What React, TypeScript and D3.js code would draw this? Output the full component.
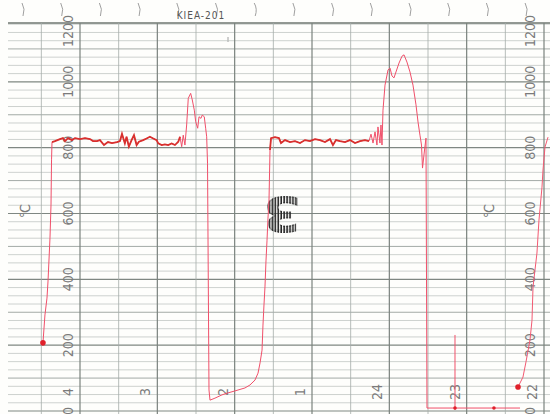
import React from 'react';
import * as d3 from 'd3';

// time = hours after 22:00 (paper runs right to left), temp in °C
const hourTicks = [0, 1, 2, 3, 4, 5, 6];
const tempTicks = [0, 200, 400, 600, 800, 1000, 1200];

// first cooling run, enters from the right edge
const runA: [number, number][] = [
  [-0.052, 832], [-0.013, 802], [0.013, 732], [0.026, 680], [0.065, 580],
  [0.091, 480], [0.142, 377], [0.155, 276], [0.181, 216], [0.233, 149],
  [0.272, 103], [0.31, 85], [0.336, 73],
];

// main trace
const runB: [number, number][] = [
  [0.31, 9], [0.647, 9], [1.151, 9], [1.513, 9], [1.526, 829], [1.545, 793],
  [1.571, 738], [1.584, 808], [1.604, 838], [1.629, 878], [1.655, 930],
  [1.694, 990], [1.733, 1030], [1.772, 1060], [1.81, 1082], [1.836, 1078],
  [1.875, 1057], [1.914, 1030], [1.94, 1012], [1.966, 1018], [1.991, 1042],
  [2.017, 1036], [2.056, 990], [2.082, 914], [2.095, 808], [2.108, 869],
  [2.121, 814], [2.147, 863], [2.16, 808], [2.185, 848], [2.211, 814],
  [2.237, 841], [2.263, 820], [2.315, 823], [2.379, 820], [2.444, 814],
  [2.509, 823], [2.573, 817], [2.638, 820], [2.69, 823], [2.729, 808],
  [2.767, 826], [2.832, 817], [2.897, 823], [2.961, 826], [3.026, 820],
  [3.091, 823], [3.155, 814], [3.22, 820], [3.285, 817], [3.349, 823],
  [3.401, 814], [3.427, 829], [3.479, 832], [3.53, 829], [3.543, 793],
  [3.556, 641], [3.569, 586], [3.582, 517], [3.595, 456], [3.608, 377],
  [3.621, 322], [3.634, 261], [3.646, 185], [3.672, 146], [3.698, 115],
  [3.737, 94], [3.802, 79], [3.867, 70], [3.996, 61], [4.086, 55],
  [4.164, 49], [4.255, 39], [4.319, 33], [4.332, 64], [4.351, 753],
  [4.362, 833], [4.375, 859], [4.393, 894], [4.419, 899], [4.436, 889],
  [4.461, 894], [4.478, 859], [4.504, 879], [4.522, 914], [4.548, 945],
  [4.569, 965], [4.6, 950], [4.621, 869], [4.643, 808], [4.665, 838],
  [4.685, 803], [4.707, 833], [4.729, 818], [4.772, 808], [4.815, 813],
  [4.859, 808], [4.902, 810], [4.944, 808], [4.988, 813], [5.009, 823],
  [5.053, 828], [5.096, 833], [5.139, 828], [5.183, 823], [5.238, 818],
  [5.268, 808], [5.302, 838], [5.333, 823], [5.368, 803], [5.398, 833],
  [5.42, 813], [5.457, 842], [5.483, 820], [5.521, 817], [5.586, 814],
  [5.638, 817], [5.69, 808], [5.742, 823], [5.78, 820], [5.832, 820],
  [5.871, 826], [5.935, 829], [6.0, 826], [6.065, 829], [6.103, 823],
  [6.155, 829], [6.194, 820], [6.22, 829], [6.259, 826], [6.323, 820],
  [6.362, 817], [6.368, 763], [6.375, 626], [6.388, 526], [6.414, 392],
  [6.427, 343], [6.453, 292], [6.479, 207],
];

const eventMark: [number, number][] = [[1.151, 231], [1.151, 3]];
const penDots: [number, number][] = [[6.479, 207], [0.336, 73]];
const tickDots: [number, number][] = [[1.151, 9], [0.647, 9]];

const hourLabel = (t: number) => String(((22 + t - 1) % 24) + 1);
// stretches where the pen trace is dense (drawn darker)
const soaking = (t: number) => (t > 2.255 && t < 3.545) || (t > 4.7 && t < 6.365);

export default function App() {
  const x = d3.scaleLinear().domain([0, 6]).range([544, 80]);
  const y = d3.scaleLinear().domain([0, 1200]).range([411, 16]);
  const top = 23;
  const font = '"DejaVu Sans Condensed", "DejaVu Sans", sans-serif';

  const line = d3.line<[number, number]>().x(d => x(d[0])).y(d => y(d[1]));
  const soakLine = d3.line<[number, number]>()
    .defined(d => soaking(d[0]))
    .x(d => x(d[0])).y(d => y(d[1]));

  const halfHours = d3.range(-0.5, 7, 0.5).filter(t => x(t) >= 8 && x(t) <= 550);
  const rows = d3.range(0, 1176, 25);
  const marks = d3.range(-1, 14).map(i => 23 + i * 38.7).filter(v => v > 5 && v < 545);

  const rot = (cx: number, cy: number) => `rotate(-90 ${cx} ${cy})`;

  return (
    <svg width={550} height={414} style={{ position: 'absolute', left: 0, top: 0, background: '#fefefc' }}>
      <defs>
        <pattern id="dotfill" width={2.6} height={3} patternUnits="userSpaceOnUse">
          <rect width={1.4} height={3} fill="#262626" />
        </pattern>
      </defs>
      {marks.map((m, i) => (
        <path key={i} d={`M${m - 1},3 Q${m + 2.5},9 ${m},16`} fill="none" stroke="#a0a0a0" strokeWidth={1} />
      ))}
      <text x={201} y={19} textAnchor="middle" fontSize={10} letterSpacing={1} fill="#555" fontFamily={font}>KIEA-201</text>
      <line x1={228} x2={228} y1={37} y2={42} stroke="#888" strokeWidth={0.8} />

      {rows.map(v => (
        <line key={v} x1={8} x2={550} y1={y(v)} y2={y(v)}
          stroke={v % 200 === 0 ? '#7f8782' : v % 100 === 0 ? '#99a09c' : '#b9bebb'}
          strokeWidth={v % 200 === 0 ? 1.2 : v % 100 === 0 ? 0.9 : 0.7} />
      ))}
      <line x1={8} x2={550} y1={top} y2={top} stroke="#6f7772" strokeWidth={1.4} />
      {halfHours.map(t => (
        <line key={t} x1={x(t)} x2={x(t)} y1={top} y2={414}
          stroke={Number.isInteger(t) ? '#7a827d' : '#a5aca8'}
          strokeWidth={Number.isInteger(t) ? 1.2 : 0.8} />
      ))}

      {tempTicks.map(v => {
        const cy = Math.max(y(v), 31);
        return (
          <g key={v} fill="#7b7b7b" fontSize={14} fontFamily={font}>
            <text x={x(6) - 12} y={cy} transform={rot(x(6) - 12, cy)} textAnchor="middle" dominantBaseline="central">{v}</text>
            <text x={x(0) - 14} y={cy} transform={rot(x(0) - 14, cy)} textAnchor="middle" dominantBaseline="central">{v}</text>
          </g>
        );
      })}
      {hourTicks.map(t => (
        <text key={t} x={x(t) - 12} y={392} transform={rot(x(t) - 12, 392)} textAnchor="middle"
          dominantBaseline="central" fontSize={14} fill="#7b7b7b" fontFamily={font}>{hourLabel(t)}</text>
      ))}
      {[6.5, 0.5].map(t => (
        <text key={t} x={x(t) - 16} y={211} transform={rot(x(t) - 16, 211)} textAnchor="middle"
          dominantBaseline="central" fontSize={14} fill="#7b7b7b" fontFamily={font}>℃</text>
      ))}

      <text x={0} y={0} transform="translate(282 213) rotate(180) scale(1.12 1)" textAnchor="middle" dominantBaseline="central"
        fontSize={48} fontWeight="bold" fill="url(#dotfill)" stroke="url(#dotfill)" strokeWidth={1.2}
        fontFamily="'DejaVu Sans', sans-serif">3</text>

      <path d={line(runA) ?? ''} fill="none" stroke="#f25a72" strokeWidth={1} />
      <path d={line(runB) ?? ''} fill="none" stroke="#f0506a" strokeWidth={1} />
      <path d={soakLine(runB) ?? ''} fill="none" stroke="#d8302e" strokeWidth={1.8} />
      <path d={line(eventMark) ?? ''} fill="none" stroke="#f0506a" strokeWidth={1} />
      {penDots.map((d, i) => (
        <circle key={i} cx={x(d[0])} cy={y(d[1])} r={2.8} fill="#e0202a" />
      ))}
      {tickDots.map((d, i) => (
        <circle key={i} cx={x(d[0])} cy={y(d[1])} r={1.8} fill="#e0202a" />
      ))}
    </svg>
  );
}
